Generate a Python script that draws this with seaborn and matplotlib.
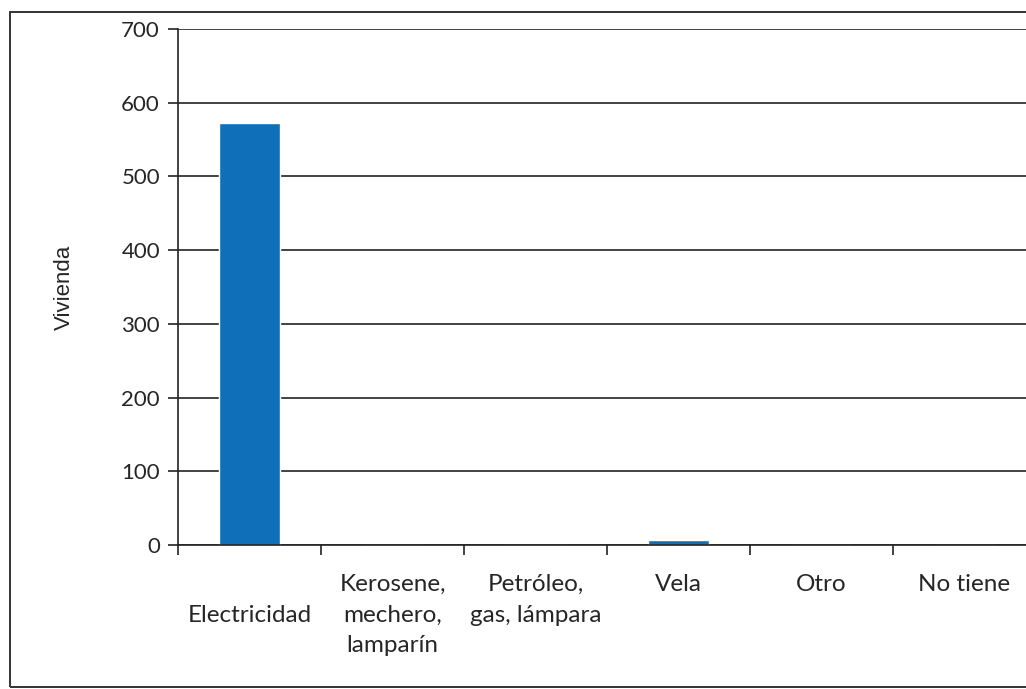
import matplotlib
matplotlib.use("Agg")
import matplotlib.pyplot as plt
import seaborn as sns
from matplotlib.patches import Rectangle
from matplotlib.ticker import FixedLocator

categorias = ["\nElectricidad", "Kerosene,\nmechero,\nlamparín", "Petróleo,\ngas, lámpara",
              "Vela", "Otro", "No tiene"]
viviendas = [572, 0, 0, 7, 0, 0]
y_ticks = [0, 100, 200, 300, 400, 500, 600, 700]

sns.set_style("white")
plt.rcParams["font.family"] = ["Lato", "DejaVu Sans"]

fig = plt.figure(figsize=(10.26, 6.89), dpi=100)
ax = fig.add_axes([178 / 1026, 144 / 689, 858 / 1026, 516 / 689])

sns.barplot(x=categorias, y=viviendas, color="#0f6fb8", saturation=1, width=0.42, ax=ax)

ax.set_xlim(-0.5, len(categorias) - 0.5)
ax.set_ylim(0, 700)
ax.set_yticks(y_ticks)
ax.yaxis.grid(True, color="#222222", linewidth=1.2)
ax.set_axisbelow(True)
for s in ["top", "right"]:
    ax.spines[s].set_visible(False)
for s in ["left", "bottom"]:
    ax.spines[s].set_color("#222222")
    ax.spines[s].set_linewidth(1.2)

ax.tick_params(axis="y", length=7, width=1.2, color="#222222", labelsize=16, pad=6, left=True)
ax.tick_params(axis="x", which="major", length=0, labelsize=17.5, pad=21)
ax.xaxis.set_minor_locator(FixedLocator([i - 0.5 for i in range(len(categorias) + 1)]))
ax.tick_params(axis="x", which="minor", length=7, width=1.2, color="#222222", bottom=True)
for lbl in ax.get_xticklabels():
    lbl.set_verticalalignment("top")
    lbl.set_linespacing(1.55)

ax.set_ylabel("Vivienda", family="Liberation Sans", fontsize=16, labelpad=33)

fig.patches.append(Rectangle((10 / 1026, 2 / 689), 1.1, 675 / 689, transform=fig.transFigure,
                             fill=False, edgecolor="#333333", linewidth=1.4))

fig.savefig("out.png", dpi=100)
